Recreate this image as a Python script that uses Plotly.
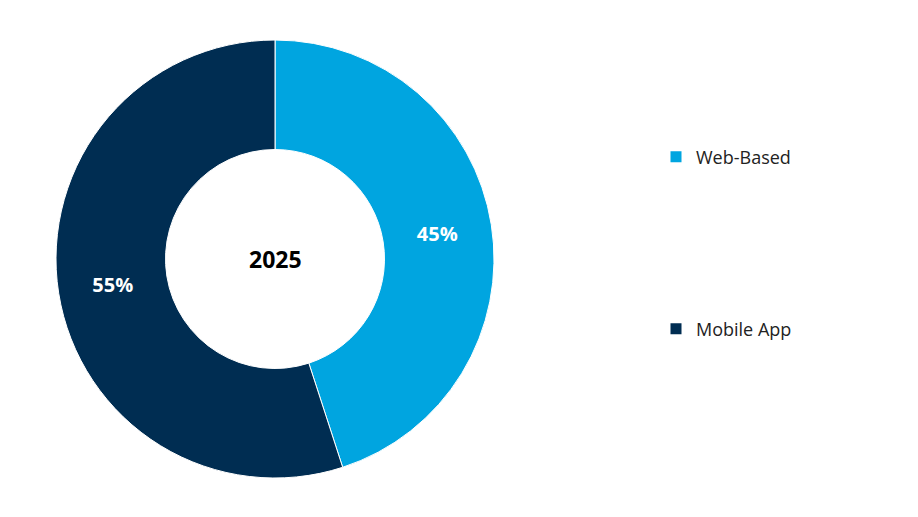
import plotly.graph_objects as go

# Data
segments = ["Web-Based", "Mobile App"]
shares = [45, 55]
colors = ["#00A5E0", "#002D52"]
center_label = "2025"

W, H = 918, 517
OFF = 8  # page body margin in the screenshot

fig = go.Figure()

cx, cy, r = 275 - OFF, 259 - OFF, 219
fig.add_trace(go.Pie(
    labels=segments,
    values=shares,
    hole=0.5,
    sort=False,
    direction="clockwise",
    rotation=0,
    marker=dict(colors=colors, line=dict(color="white", width=1)),
    texttemplate="<b>%{value}%</b>",
    textposition="inside",
    insidetextorientation="horizontal",
    textfont=dict(color="white", size=20, family="Open Sans"),
    showlegend=False,
    hoverinfo="label+percent",
    domain=dict(x=[(cx - r) / W, (cx + r) / W],
                y=[(H - cy - r) / H, (H - cy + r) / H]),
))

# legend entries, one per legend so they can sit far apart
legend_names = ["legend", "legend2"]
for name, col, lg in zip(segments, colors, legend_names):
    fig.add_trace(go.Scatter(
        x=[None], y=[None], mode="markers", name=name,
        marker=dict(symbol="square", size=11, color=col),
        legend=lg, showlegend=True,
    ))

legend_style = dict(
    font=dict(size=18, family="Open Sans", color="#222222"),
    bgcolor="rgba(0,0,0,0)",
    xanchor="left", yanchor="middle",
    itemwidth=30,
)

fig.update_layout(
    width=W, height=H,
    margin=dict(l=0, r=0, t=0, b=0, autoexpand=False),
    paper_bgcolor="white",
    plot_bgcolor="white",
    xaxis=dict(visible=False),
    yaxis=dict(visible=False),
    legend=dict(x=(656 - OFF) / W, y=1 - (157 - OFF) / H, **legend_style),
    legend2=dict(x=(656 - OFF) / W, y=1 - (329 - OFF) / H, **legend_style),
    annotations=[dict(
        text="<b>" + center_label + "</b>",
        x=cx / W, y=1 - cy / H, xref="paper", yref="paper",
        xanchor="center", yanchor="middle",
        showarrow=False, font=dict(size=23, family="Open Sans", color="black"),
    )],
)

fig.write_html("out.html")
